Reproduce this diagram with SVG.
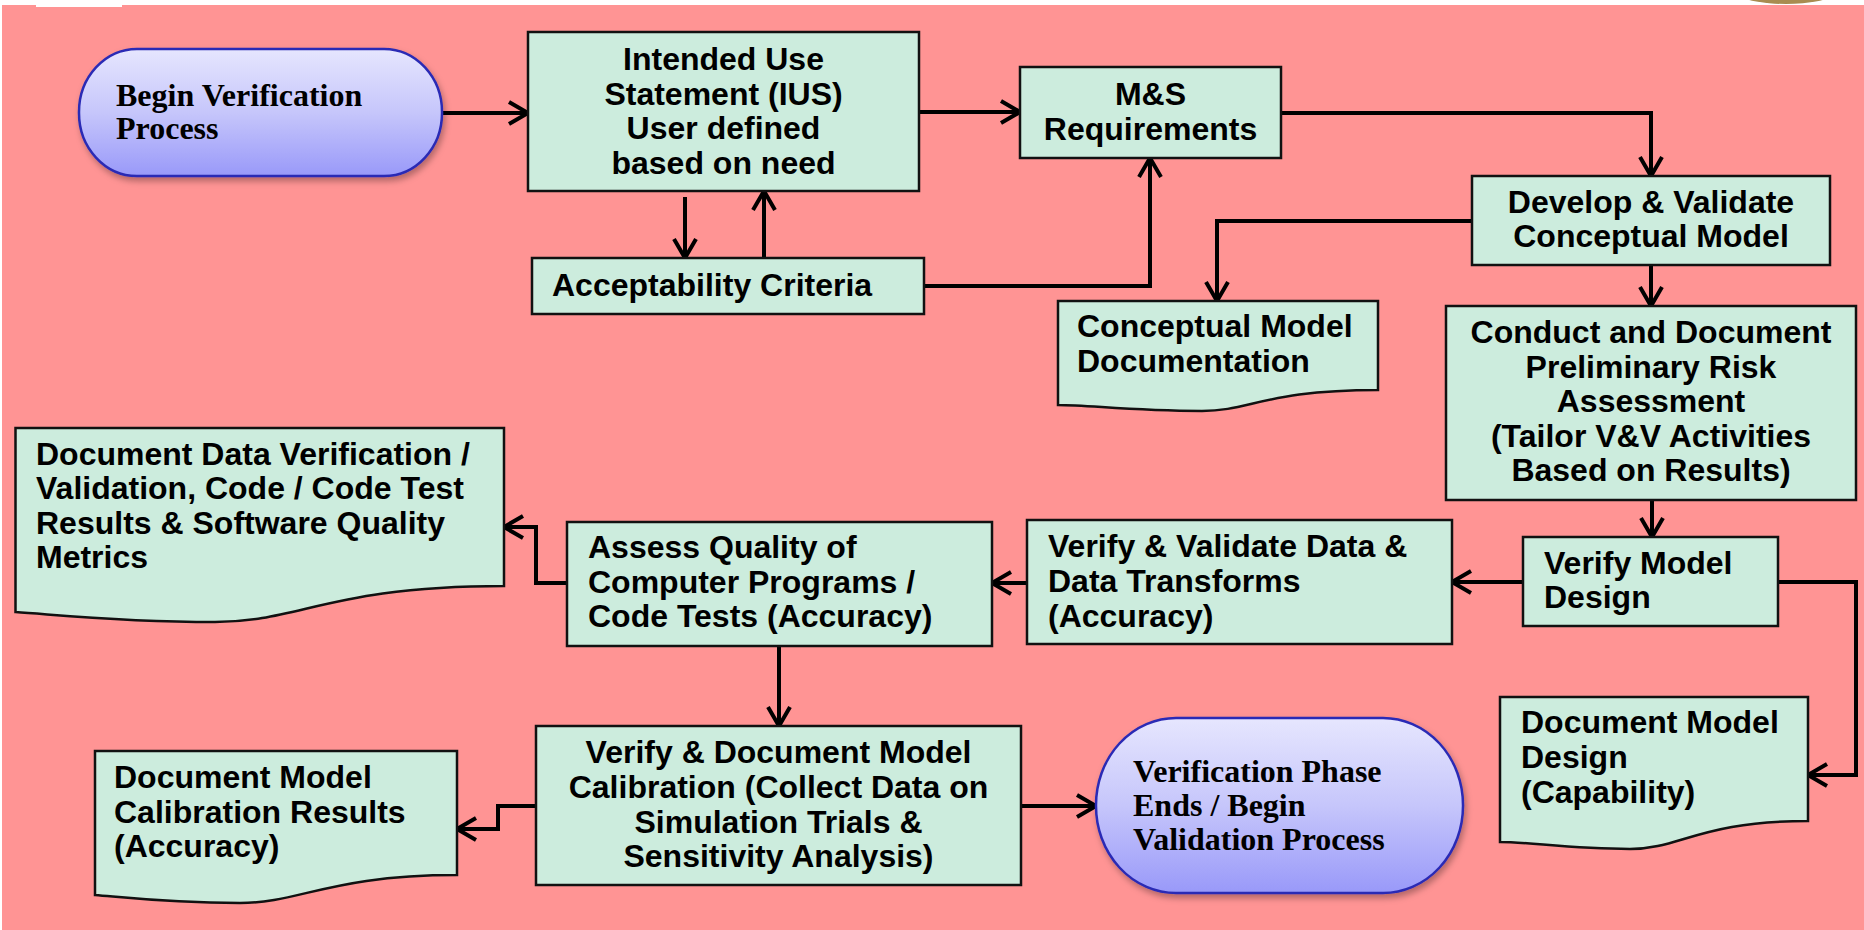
<svg xmlns="http://www.w3.org/2000/svg" width="1864" height="930" viewBox="0 0 1864 930">
<style>
.box{fill:#CCECDD;stroke:#111;stroke-width:2.5}
.term{fill:url(#tg);stroke:#2B2BB5;stroke-width:2.5;filter:url(#sh)}
.t{font-family:"Liberation Sans",Arial,sans-serif;font-weight:bold;font-size:32px;fill:#000}
.m{text-anchor:middle}
.s{font-family:"Liberation Serif","Times New Roman",serif;font-weight:bold;font-size:32px;fill:#000}
.c{fill:none;stroke:#000;stroke-width:4;marker-end:url(#ar)}
</style>
<defs>
<linearGradient id="tg" x1="0" y1="0" x2="0" y2="1">
<stop offset="0" stop-color="#E6E6FE"/>
<stop offset="0.5" stop-color="#C6C6FB"/>
<stop offset="1" stop-color="#9999F9"/>
</linearGradient>
<filter id="sh" x="-10%" y="-10%" width="120%" height="130%">
<feDropShadow dx="2" dy="4" stdDeviation="3" flood-color="#000" flood-opacity="0.3"/>
</filter>
<marker id="ar" markerUnits="userSpaceOnUse" markerWidth="26" markerHeight="28" viewBox="0 0 26 28" refX="22" refY="14" orient="auto">
<path d="M3,3 L22,14 L3,25" fill="none" stroke="#000" stroke-width="4"/>
</marker>
</defs>
<rect x="0" y="0" width="1864" height="930" fill="#FFFFFF"/>
<ellipse cx="1786" cy="-5" rx="44" ry="9" fill="#A88C50"/>
<rect x="2" y="5" width="1862" height="925" fill="#FF9494"/>
<rect x="36" y="5" width="86" height="2" fill="#FFFFFF"/>

<g id="connectors">
<path class="c" d="M442,113 H528"/>
<path class="c" d="M919,112 H1020"/>
<path class="c" d="M1281,113 H1651 V176"/>
<path class="c" d="M685,197 V258"/>
<path class="c" d="M764,258 V191"/>
<path class="c" d="M924,286 H1150 V158"/>
<path class="c" d="M1472,221 H1217 V301"/>
<path class="c" d="M1651,265 V306"/>
<path class="c" d="M1652,500 V537"/>
<path class="c" d="M1523,582 H1452"/>
<path class="c" d="M1778,582 H1856 V775 H1808"/>
<path class="c" d="M1027,583 H992"/>
<path class="c" d="M567,583 H536 V527 H504"/>
<path class="c" d="M779,646 V726"/>
<path class="c" d="M536,806 H498 V829 H457"/>
<path class="c" d="M1021,806 H1096"/>
</g>

<g id="begin">
<rect class="term" x="79" y="49" width="363" height="127" rx="58" ry="63"/>
<text class="s"><tspan x="116" y="106">Begin Verification</tspan><tspan x="116" y="139">Process</tspan></text>
</g>

<g id="ius">
<rect class="box" x="528" y="32" width="391" height="159"/>
<text class="t m"><tspan x="723.5" y="70">Intended Use</tspan><tspan x="723.5" y="104.5">Statement (IUS)</tspan><tspan x="723.5" y="139">User defined</tspan><tspan x="723.5" y="173.5">based on need</tspan></text>
</g>

<g id="ms-req">
<rect class="box" x="1020" y="67" width="261" height="91"/>
<text class="t m"><tspan x="1150.5" y="105">M&amp;S</tspan><tspan x="1150.5" y="139.5">Requirements</tspan></text>
</g>

<g id="accept">
<rect class="box" x="532" y="258" width="392" height="56"/>
<text class="t" x="552" y="296">Acceptability Criteria</text>
</g>

<g id="concept-doc">
<path class="box" d="M1058,301 H1378 V390 C1266,390 1250,411 1202,411 C1130,411 1090,405 1058,405 Z"/>
<text class="t"><tspan x="1077" y="337">Conceptual Model</tspan><tspan x="1077" y="372">Documentation</tspan></text>
</g>

<g id="develop">
<rect class="box" x="1472" y="176" width="358" height="89"/>
<text class="t m"><tspan x="1651" y="213">Develop &amp; Validate</tspan><tspan x="1651" y="247">Conceptual Model</tspan></text>
</g>

<g id="risk">
<rect class="box" x="1446" y="306" width="410" height="194"/>
<text class="t m"><tspan x="1651" y="343">Conduct and Document</tspan><tspan x="1651" y="377.5">Preliminary Risk</tspan><tspan x="1651" y="412">Assessment</tspan><tspan x="1651" y="446.5">(Tailor V&amp;V Activities</tspan><tspan x="1651" y="481">Based on Results)</tspan></text>
</g>

<g id="verify-design">
<rect class="box" x="1523" y="537" width="255" height="89"/>
<text class="t"><tspan x="1544" y="574">Verify Model</tspan><tspan x="1544" y="608">Design</tspan></text>
</g>

<g id="vv-data">
<rect class="box" x="1027" y="520" width="425" height="124"/>
<text class="t"><tspan x="1048" y="557">Verify &amp; Validate Data &amp;</tspan><tspan x="1048" y="592">Data Transforms</tspan><tspan x="1048" y="626.5">(Accuracy)</tspan></text>
</g>

<g id="design-doc">
<path class="box" d="M1500,697 H1808 V821 C1700,821 1680,849 1630,849 C1570,849 1530,842 1500,842 Z"/>
<text class="t"><tspan x="1521" y="733">Document Model</tspan><tspan x="1521" y="768">Design</tspan><tspan x="1521" y="803">(Capability)</tspan></text>
</g>

<g id="assess">
<rect class="box" x="567" y="522" width="425" height="124"/>
<text class="t"><tspan x="588" y="558">Assess Quality of</tspan><tspan x="588" y="593">Computer Programs /</tspan><tspan x="588" y="627">Code Tests (Accuracy)</tspan></text>
</g>

<g id="data-doc">
<path class="box" d="M15.5,428 H504 V586 C330,586 300,622 215,622 C120,622 60,615 15.5,612 Z"/>
<text class="t"><tspan x="36" y="464.5">Document Data Verification /</tspan><tspan x="36" y="499">Validation, Code / Code Test</tspan><tspan x="36" y="533.5">Results &amp; Software Quality</tspan><tspan x="36" y="568">Metrics</tspan></text>
</g>

<g id="calibration">
<rect class="box" x="536" y="726" width="485" height="159"/>
<text class="t m"><tspan x="778.5" y="763">Verify &amp; Document Model</tspan><tspan x="778.5" y="798">Calibration (Collect Data on</tspan><tspan x="778.5" y="833">Simulation Trials &amp;</tspan><tspan x="778.5" y="867">Sensitivity Analysis)</tspan></text>
</g>

<g id="calib-doc">
<path class="box" d="M95,751 H457 V875 C330,875 300,903 240,903 C170,903 130,898 95,895 Z"/>
<text class="t"><tspan x="114" y="788">Document Model</tspan><tspan x="114" y="822.5">Calibration Results</tspan><tspan x="114" y="857">(Accuracy)</tspan></text>
</g>

<g id="end">
<rect class="term" x="1096" y="718" width="367" height="175" rx="80" ry="87"/>
<text class="s"><tspan x="1133" y="782">Verification Phase</tspan><tspan x="1133" y="816">Ends / Begin</tspan><tspan x="1133" y="850">Validation Process</tspan></text>
</g>
</svg>
